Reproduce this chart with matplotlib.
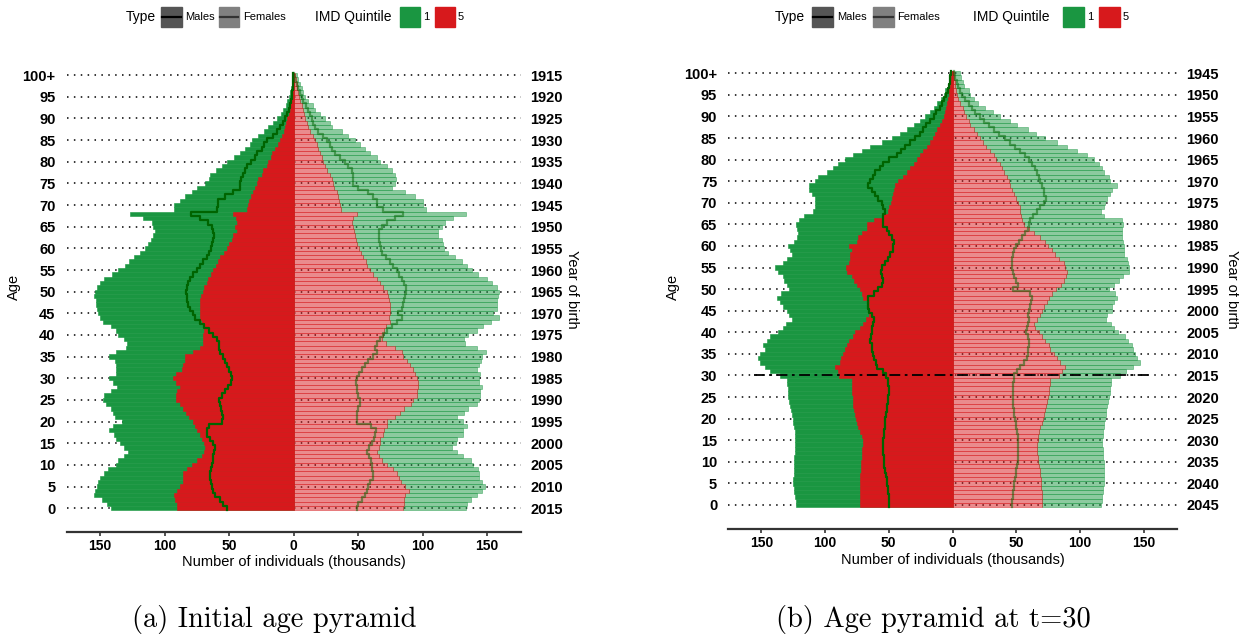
import numpy as np
import matplotlib
matplotlib.use("Agg")
import matplotlib.pyplot as plt
from matplotlib.patches import Rectangle
from matplotlib.lines import Line2D

plt.rcParams['font.family'] = ['Liberation Sans', 'DejaVu Sans']

# ---- data (thousands of individuals), index = age 0..100 ----
ages = np.arange(0, 101)

# (a) initial pyramid, base year 2015
a_male_q1 = [141.9, 145, 148.8, 154.5, 154, 152.7, 151.4, 150, 147, 143.7,
             137.7, 136, 131.5, 128.7, 131.5, 134.6, 137.7, 139, 143, 139.8,
             133, 138.5, 140, 142, 145.5, 148, 147, 142, 137, 140,
             143, 137.7, 137.7, 137.7, 138.5, 143, 137.7, 130, 129.5, 131.5,
             136, 137.7, 142, 147.5, 150, 152, 152.7, 153, 153, 154.5,
             154, 152.5, 150, 147, 141, 136, 130.5, 127.9, 124, 119,
             115, 112.7, 110.8, 108.8, 107.5, 108.8, 110, 116.5, 126.9, 93,
             93, 88, 84, 79, 75, 68.7, 66, 64.6, 60, 55.6,
             51.7, 46.5, 42, 37.5, 34, 32.6, 27.4, 23, 19.6, 16.3,
             13.2, 9.8, 8, 6.2, 4.9, 3.9, 2.8, 2.3, 1.6, 1, 0.8]
a_male_q5 = [90.2, 90.7, 92, 92.8, 90.2, 88, 86, 86, 86, 82.4,
             79, 75.2, 71.3, 69.5, 68.7, 69.5, 71.3, 73, 75.2, 76.5,
             77.8, 80.9, 83.5, 86, 88, 91.2, 91.2, 90.2, 88, 91.2,
             93.3, 91.2, 86.8, 86, 84.2, 84.2, 78.3, 72.6, 70.5, 70,
             70, 69.5, 70, 71.3, 72.6, 73, 73, 72.6, 72.6, 71.8,
             70.5, 69.5, 67.4, 66.1, 64.3, 62.3, 60.2, 58.4, 57.1, 54,
             51.9, 49.9, 48, 46.8, 44.2, 45.5, 44.2, 44.7, 46.8, 36.4,
             35.1, 34.4, 33.3, 31.3, 30, 28.7, 27.4, 24.8, 23.5, 20.9,
             19.9, 17.3, 16.5, 14.7, 12.5, 11, 9, 7.5, 6.5, 5.7,
             4.9, 3.9, 3, 2.6, 2.1, 1.6, 1.3, 1, 0.8, 0.5, 0.3]
a_male_line = [51.9, 54.5, 57.1, 61, 62.3, 63.6, 64.3, 64.9, 64.9, 64.3,
               63.6, 62.8, 62.3, 61.8, 61, 62.3, 64.9, 67.4, 67.4, 66,
               55.8, 55, 55.8, 56.6, 57.1, 57.6, 55.8, 53.2, 50.6, 48.8,
               48, 48.8, 49.9, 51.4, 53.2, 55, 57.1, 57.6, 57.6, 59.7,
               62.3, 65.4, 69.5, 72.6, 76.5, 78.3, 80.4, 81.7, 82.4, 83,
               83.5, 83, 81.7, 80.4, 77.8, 75.2, 72.6, 70, 67.4, 65.4,
               64.3, 63.6, 62.3, 61.5, 62.3, 63.6, 66.1, 72.6, 79.8, 59.7,
               59, 58.4, 53.2, 46.8, 42, 41.6, 41, 39.5, 37.7, 36.4,
               33.3, 30, 28.7, 24.8, 23, 21, 15.8, 13, 10.6, 8.5,
               6.7, 5, 3.4, 2.8, 2, 1.5, 1.2, 0.9, 0.6, 0.4, 0.3]
a_female_q1 = [133.6, 134.1, 137.2, 142.4, 145.7, 148.3, 145.7, 143.9, 143.9, 143.2,
               139.3, 137.2, 131.5, 126.4, 122.5, 125.8, 126.9, 131, 131.5, 134.6,
               131, 126.4, 132, 135.4, 141.9, 143.9, 144.4, 144.4, 145.7, 143.9,
               143.9, 144.4, 142.4, 143.9, 145, 145.7, 149.1, 142.4, 132.8, 132,
               135.4, 141.9, 146.5, 152.7, 159.4, 154.8, 157.4, 157.9, 157.9, 158.7,
               159.4, 157.9, 153.5, 149.6, 143.2, 138, 134.1, 130.2, 125, 119.9,
               116.5, 116, 114.7, 112.1, 112.1, 114.7, 117.3, 123.3, 133.6, 102.6,
               100.5, 100.5, 94, 86.3, 76, 78.6, 79.3, 78.6, 76, 72.1,
               66.9, 64.3, 59.2, 55.3, 51.4, 47.5, 42.4, 37.2, 29.5, 28.2,
               24.3, 20.4, 16.5, 15.2, 11.4, 8.8, 7, 6.2, 4.9, 3.6, 2.8]
a_female_q5 = [85, 85.5, 85.5, 86.3, 89.7, 86.3, 82.9, 81.9, 79.8, 77.3,
               72.1, 68.2, 66.4, 64.9, 66.4, 66.9, 66.9, 69, 70, 72.1,
               72.6, 78.6, 82.4, 85.5, 90.7, 92.8, 95.3, 95.9, 96.6, 96.6,
               95.9, 94.1, 92.2, 90.2, 87.6, 85, 83.7, 78.6, 71.6, 68.2,
               69, 70, 71.6, 74.7, 74.2, 74.7, 74.7, 74.7, 74.2, 73.4,
               72.1, 69.5, 66.9, 64.3, 61.8, 59.2, 57.1, 56.1, 54, 51.9,
               50.9, 49.4, 48.3, 47.5, 46.8, 45.7, 45, 45.7, 48.8, 36.4,
               35.9, 35.4, 34.6, 33.3, 31.3, 30.2, 29.5, 28.2, 25.6, 24.3,
               23, 21.7, 20.4, 19.1, 17.8, 16.5, 15.2, 12.7, 11.4, 10,
               8.8, 8, 7, 6.2, 4.9, 4.4, 3.6, 2.8, 2.3, 1.6, 1]
a_female_line = [48.8, 50.1, 52.7, 55.3, 57.1, 57.9, 59.2, 61.2, 61.2, 60.5,
                 60.5, 59.7, 58.7, 57.1, 58.7, 60.5, 62.3, 63, 63.8, 60,
                 49.4, 48.8, 49.4, 50.1, 51.4, 51.4, 50.1, 49.4, 48.8, 48.3,
                 49.4, 50.9, 52.7, 55.3, 57.9, 61.8, 64.3, 63, 64.3, 66.9,
                 69.5, 72.6, 76, 79.8, 83.7, 81.1, 83.7, 84.5, 85.5, 86.3,
                 87.1, 87.1, 85.5, 83.7, 81.9, 79.8, 77.3, 74.7, 71.6, 68.2,
                 67.4, 66.9, 66.4, 66.4, 66.4, 68.2, 72.1, 78.6, 84.5, 69.5,
                 64.3, 64.3, 61.8, 57.9, 50.1, 45.7, 45.7, 46.3, 45, 42.4,
                 39.8, 35.9, 32, 29.5, 28.2, 25.6, 23, 19.1, 16.5, 15.2,
                 14, 12.7, 11.4, 9.6, 7.5, 6.2, 4.9, 3.6, 2.3, 1, 0.3]

# (b) pyramid at t=30, base year 2045
b_male_q1 = [122.8, 123.1, 123.6, 124.1, 124.4, 124.9, 124.9, 124.4, 124.4, 124.4,
             124.1, 124.1, 123.6, 123.6, 123.6, 123.6, 123.6, 123.6, 124.4, 124.9,
             125.4, 126.2, 127, 127.5, 128, 128.8, 128.8, 129.3, 129.6, 130.1,
             135.4, 143.2, 147.1, 151.1, 152.4, 151.1, 147.1, 148.4, 145.3, 143.2,
             136.7, 133.3, 130.7, 126.2, 128, 130.1, 132.8, 135.4, 137.5, 134.6,
             128, 129.6, 132.2, 132.8, 136.7, 139.3, 133.3, 130.1, 126.2, 127.5,
             128.8, 124.4, 122.3, 121, 122.3, 122.8, 120.2, 116.5, 109.2, 107.9,
             107.9, 107.9, 110.5, 112.3, 112.3, 107.9, 105.2, 98.7, 94, 89.5,
             84.3, 78.3, 71.2, 64.6, 55.5, 47.6, 41.6, 35.8, 30.6, 25.9,
             21.4, 18, 14.9, 11.8, 9.1, 7, 5.7, 3.9, 3.1, 2.3, 1.8]
b_male_q5 = [73, 73, 73, 72.8, 72.8, 72.5, 72.5, 72.5, 72, 72,
             71.7, 71.4, 71.2, 70.9, 70.4, 70.4, 71.2, 72.5, 73.8, 74.6,
             75.7, 76.4, 77.2, 77.8, 78.3, 78.5, 79, 79, 79, 79,
             88.8, 89.5, 92.2, 88.2, 87.7, 85.6, 84.3, 83, 80.9, 78.3,
             76.4, 73, 70.4, 67.8, 65.9, 65.2, 65.9, 65.9, 69.9, 71.2,
             73, 75.1, 77.2, 79, 83, 83.5, 80.9, 80.4, 80.4, 79,
             80.9, 75.1, 73.8, 71.2, 67.3, 67.3, 61.5, 55.5, 51, 49.5,
             48.4, 47.6, 46.9, 46.3, 45, 42.4, 39, 35.8, 33.2, 30.6,
             28, 25.4, 22.8, 20.2, 17.5, 15.4, 13.6, 11.8, 10.2, 8.4,
             7, 5.7, 5, 4.5, 3.7, 3.1, 2.6, 2.3, 1.8, 1.3, 1]
b_male_line = [49.5, 49.9, 50.2, 50.5, 50.8, 51.3, 51.8, 52.4, 52.9, 53.4,
               53.6, 53.9, 54.2, 54.2, 54.2, 54.2, 53.6, 53.4, 53.1, 52.9,
               52.6, 52.1, 51.6, 51.6, 51, 50.5, 50.2, 50.2, 50.5, 51,
               52.1, 54.7, 58.9, 59.9, 61.5, 62.6, 63.3, 63.3, 64.7, 64.1,
               63.3, 63.3, 62.6, 61.5, 63.3, 65.2, 66, 66, 66, 62,
               58.1, 55.5, 54.7, 55.5, 56.2, 55.5, 52.9, 51, 48.9, 46.9,
               46.9, 46.3, 47.6, 49.5, 51.6, 54.2, 54.7, 54.2, 52.9, 54.2,
               55.5, 58.1, 60.7, 63.3, 66, 64.7, 62.6, 60.7, 57.3, 54.2,
               49.5, 43.7, 40.6, 37.2, 33.2, 29.3, 25.9, 23.3, 20.7, 17.5,
               14.9, 12.8, 10.2, 8.4, 6.5, 5, 3.7, 3, 2.3, 1.6, 1]
b_female_q1 = [116.6, 117.1, 117.6, 118.1, 118.4, 118.6, 118.9, 118.9, 118.9, 118.6,
               118.6, 118.4, 118.1, 117.9, 117.6, 117.6, 117.9, 118.1, 118.6, 119.2,
               119.7, 120.2, 120.7, 121.3, 121.8, 122.6, 123.4, 123.9, 124.4, 124.4,
               131.7, 136.5, 141.7, 146.9, 144.8, 143.5, 141.7, 140.9, 137.5, 135.6,
               129.7, 126.5, 124.4, 120.7, 121.3, 125.2, 125.2, 126.5, 129.1, 127.8,
               122.6, 126.5, 130.4, 133.8, 138.3, 138.3, 137.5, 137, 134.9, 134.9,
               134.4, 133.8, 133, 133, 133, 133.8, 133, 118.6, 116.6, 118.6,
               119.9, 121.3, 123.4, 125.2, 129.1, 123.4, 122.6, 118.6, 117.3, 114.7,
               110.8, 105.5, 97.7, 89.8, 82, 72.8, 65.7, 59, 50.6, 44.8,
               37.5, 31.7, 25.7, 20.4, 17, 13.4, 12.6, 9.2, 8.1, 6.6, 5.5]
b_female_q5 = [70.2, 70.2, 69.9, 69.9, 69.7, 69.4, 69.1, 68.9, 68.4, 67.8,
               67.3, 66.8, 66.5, 66.3, 66.3, 66.8, 67.3, 68.1, 68.9, 70.2,
               71, 72, 72.8, 73.6, 74.1, 74.9, 75.4, 76, 76.2, 76.2,
               83.3, 85.9, 88.5, 84.6, 82, 79.4, 76.8, 75.4, 72.8, 70.2,
               67.6, 65, 64.2, 66.3, 68.9, 70.2, 71.5, 74.1, 75.4, 78.1,
               81.5, 85.1, 87.7, 89.3, 89.8, 88.5, 87.2, 83.3, 80.7, 78.1,
               74.7, 72.8, 68.9, 63.7, 59.7, 55.8, 54.5, 53.7, 53.2, 52.7,
               51.1, 50, 48.5, 46.6, 45.3, 44, 42.7, 40.6, 38.8, 36.9,
               34.3, 32.2, 29.1, 26.5, 23.9, 21.2, 19.1, 16.5, 13.9, 12.6,
               10.8, 9.2, 8.1, 6, 4.7, 3.4, 2.4, 2.1, 1.9, 1.5, 1.3]
b_female_line = [46.9, 47.1, 47.4, 47.7, 47.9, 48.5, 49, 49.5, 50, 50.6,
                 51.1, 51.3, 51.6, 51.6, 51.6, 51.3, 51.1, 50.6, 50, 49.5,
                 49, 48.5, 47.9, 47.4, 47.4, 47.4, 47.4, 47.4, 47.4, 47.9,
                 48.5, 50.6, 53.2, 55.8, 58.4, 58.9, 58.9, 59.7, 59.7, 58.9,
                 57.9, 58.4, 58.9, 59.7, 58.9, 59.7, 61, 61.6, 62.3, 61,
                 47.4, 51.1, 50, 48.5, 47.4, 46.6, 46.6, 46.6, 47.4, 48.5,
                 50, 51.9, 54.5, 57.1, 58.9, 59.7, 60.5, 63.1, 66.3, 68.9,
                 71.5, 73.1, 72, 71.5, 70.2, 68.9, 67.6, 66.3, 64.9, 62.3,
                 59.7, 57.1, 52.7, 49.3, 45.3, 41.4, 36.2, 32.2, 28.3, 24.4,
                 21.8, 17.8, 15.2, 12.6, 10, 7.4, 6, 4.7, 3.4, 2.1, 0.8]

age_ticks = list(range(0, 101, 5))
age_labels = [str(a) for a in age_ticks[:-1]] + ['100+']
x_ticks = [-150, -100, -50, 0, 50, 100, 150]

GREEN = '#1a9641'
RED = '#d7191c'
LINE = '#006400'

W, H = 1239, 637
fig = plt.figure(figsize=(W / 100, H / 100), dpi=100)


def px_rect(x0, y0, x1, y1):
    # pixel box (from top-left) -> figure fraction rect
    return [x0 / W, 1 - y1 / H, (x1 - x0) / W, (y1 - y0) / H]


def step_xy(vals, sign):
    v = np.repeat(np.asarray(vals, float), 2) * sign
    y = np.column_stack([ages - 0.5, ages + 0.5]).ravel()
    return v, y


def pyramid(rect, ylow, mq1, mq5, mline, fq1, fq5, fline, base_year, cut=None):
    ax = fig.add_axes(rect)
    mq1, mq5, fq1, fq5 = map(np.asarray, (mq1, mq5, fq1, fq5))
    ax.set_axisbelow(True)
    ax.yaxis.grid(True, linestyle=(0, (1, 3.5)), color='black', lw=1.1)
    # males
    ax.barh(ages, -mq1, height=1, color=GREEN, edgecolor=GREEN, lw=0.4, zorder=2)
    ax.barh(ages, -mq5, height=1, color=RED, edgecolor=RED, lw=0.4, zorder=3)
    # females (semi transparent)
    ax.barh(ages, fq1 - fq5, left=fq5, height=1, color=GREEN, alpha=0.5,
            edgecolor=GREEN, lw=0.6, zorder=2)
    ax.barh(ages, fq5, height=1, color=RED, alpha=0.5,
            edgecolor=RED, lw=0.6, zorder=3)
    x, y = step_xy(mline, -1)
    ax.plot(x, y, color=LINE, lw=1.6, zorder=4)
    x, y = step_xy(fline, 1)
    ax.plot(x, y, color=LINE, lw=1.6, alpha=0.5, zorder=4)
    if cut is not None:
        ax.plot([-156, 155], [cut, cut], color='black', lw=1.3,
                linestyle=(0, (6, 2.5, 1.5, 2.5)), zorder=5)

    ax.set_xlim(-176, 176)
    ax.set_ylim(ylow, 101)
    ax.set_xticks(x_ticks)
    ax.set_xticklabels([str(abs(t)) for t in x_ticks], fontsize=10, fontweight='bold')
    ax.set_yticks(age_ticks)
    ax.set_yticklabels(age_labels, fontsize=10.5, fontweight='bold')
    ax.tick_params(axis='y', length=0, pad=8)
    ax.tick_params(axis='x', length=3, width=1.2, color='#333333', pad=2)
    for s in ('left', 'right', 'top'):
        ax.spines[s].set_visible(False)
    ax.spines['bottom'].set_color('#333333')
    ax.spines['bottom'].set_linewidth(1.6)
    ax.set_xlabel('Number of individuals (thousands)', fontsize=10.5, labelpad=2)

    ax2 = ax.twinx()
    ax2.set_ylim(ax.get_ylim())
    ax2.set_yticks(age_ticks)
    ax2.set_yticklabels([str(base_year - a) for a in age_ticks],
                        fontsize=10.5, fontweight='bold')
    ax2.tick_params(axis='y', length=0, pad=7)
    for s in ax2.spines.values():
        s.set_visible(False)
    return ax


pyramid(px_rect(66.7, 70.7, 520.7, 531.7), -5.4,
        a_male_q1, a_male_q5, a_male_line,
        a_female_q1, a_female_q5, a_female_line, 2015)
pyramid(px_rect(728.3, 69, 1176.7, 529), -5.56,
        b_male_q1, b_male_q5, b_male_line,
        b_female_q1, b_female_q5, b_female_line, 2045, cut=30)

# axis titles
for xa, xy in ((14, 572), (673, 1232)):
    fig.text(xa / W, 1 - 287 / H, 'Age', rotation=90, fontsize=10.5,
             ha='center', va='center')
    fig.text(xy / W, 1 - 289 / H, 'Year of birth', rotation=270, fontsize=10.5,
             ha='center', va='center')

# captions
fig.text(274 / W, 1 - 619 / H, '(a) Initial age pyramid', family='cmr10',
         fontsize=20.5, ha='center', va='center')
fig.text(933 / W, 1 - 619 / H, '(b) Age pyramid at t=30', family='cmr10',
         fontsize=20.5, ha='center', va='center')


# legends
def legend(x0, k):
    yc = 1 - 17 / H

    def sw(dx, w, color, line=None):
        x = x0 + dx * k
        fig.add_artist(Rectangle((x / W, 1 - 27 / H), w * k / W, 20 / H,
                                 transform=fig.transFigure, color=color))
        if line is not None:
            fig.add_artist(Line2D([(x + 1) / W, (x + w * k - 1) / W], [yc, yc],
                                  transform=fig.transFigure, color=line, lw=1.6))

    def tx(dx, s, size):
        fig.text((x0 + dx * k) / W, yc, s, fontsize=size, ha='left', va='center')

    tx(0, 'Type', 10)
    sw(35, 20.7, '#555555', 'black')
    tx(59, 'Males', 8)
    sw(93.3, 20, '#808080', '#333333')
    tx(116.7, 'Females', 8)
    tx(189, 'IMD Quintile', 10)
    sw(274, 20, GREEN)
    tx(297.3, '1', 8)
    sw(309, 20, RED)
    tx(331.3, '5', 8)


legend(126, 1.0)
legend(775, 1.05)

fig.savefig('out.png', dpi=100)
